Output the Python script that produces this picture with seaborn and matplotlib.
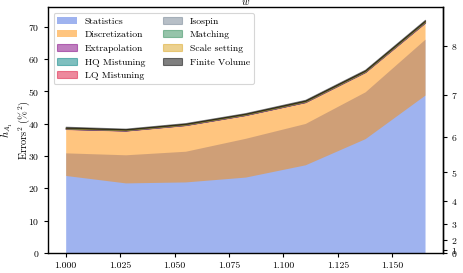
import numpy as np
import matplotlib
matplotlib.use("Agg")
import matplotlib.pyplot as plt
import seaborn as sns

# w values of the ensembles
w = [1.0, 1.0275, 1.055, 1.0825, 1.11, 1.1375, 1.165]

# squared errors (%^2)
stat_top = [31.0, 30.4, 31.5, 35.5, 40.1, 49.9, 66.2]
disc_bottom = [24.0, 21.7, 22.0, 23.5, 27.3, 35.4, 48.9]
disc_top = [38.4, 37.9, 39.6, 42.7, 46.7, 56.0, 71.3]

extrap = [0.05, 0.05, 0.05, 0.05, 0.06, 0.07, 0.08]
hq_mis = [0.03, 0.03, 0.03, 0.03, 0.03, 0.04, 0.05]
lq_mis = [0.12, 0.10, 0.10, 0.10, 0.12, 0.12, 0.15]
isospin = [0.03, 0.03, 0.03, 0.03, 0.03, 0.03, 0.04]
matching = [0.04, 0.03, 0.04, 0.04, 0.05, 0.05, 0.06]
scale = [0.06, 0.05, 0.06, 0.06, 0.07, 0.08, 0.10]
fv = [0.35, 0.30, 0.30, 0.30, 0.35, 0.35, 0.40]

small_names = ["Extrapolation", "HQ Mistuning", "LQ Mistuning", "Isospin",
               "Matching", "Scale setting", "Finite Volume"]
small_vals = [extrap, hq_mis, lq_mis, isospin, matching, scale, fv]
small_cols = ["purple", "teal", "crimson", "slategray",
              "seagreen", "goldenrod", "black"]

right_ticks = [0, 1, 2, 3, 4, 5, 6, 7, 8]

sns.set_theme(style="ticks", context="paper")
plt.rcParams["font.family"] = ["cmr10", "DejaVu Serif"]
plt.rcParams["mathtext.fontset"] = "cm"
plt.rcParams["axes.unicode_minus"] = False
plt.rcParams["axes.formatter.use_mathtext"] = True
for k in ["font.size", "xtick.labelsize", "ytick.labelsize", "legend.fontsize"]:
    plt.rcParams[k] = 7
for k in ["axes.labelsize", "axes.titlesize"]:
    plt.rcParams[k] = 7.5
for k in ["xtick.major.size", "ytick.major.size"]:
    plt.rcParams[k] = 3.0
for k in ["xtick.major.width", "ytick.major.width"]:
    plt.rcParams[k] = 0.8
plt.rcParams["xtick.major.pad"] = 3
plt.rcParams["ytick.major.pad"] = 3
for k in ["text.color", "xtick.color", "ytick.color", "axes.labelcolor"]:
    plt.rcParams[k] = "black"

fig = plt.figure(figsize=(4.63, 2.73), dpi=100)
ax = fig.add_axes([47.7 / 463, 20 / 273, (443 - 47.7) / 463, (266 - 20) / 273])

x = np.array(w)
ax.fill_between(x, 0, stat_top, color="royalblue", alpha=0.5, lw=0, label="Statistics")
ax.fill_between(x, disc_bottom, disc_top, color="darkorange", alpha=0.5, lw=0, label="Discretization")

cum = np.array(disc_top)
for name, vals, col in zip(small_names, small_vals, small_cols):
    new = cum + np.array(vals)
    ax.fill_between(x, cum, new, color=col, alpha=0.5, label=name)
    cum = new

ax.set_ylim(0, cum.max() * 1.055)
ax.set_xticks([1.0, 1.025, 1.05, 1.075, 1.1, 1.125, 1.15])
ax.set_xticklabels(["1.000", "1.025", "1.050", "1.075", "1.100", "1.125", "1.150"])
ax.set_xlabel("$w$", labelpad=3)
ax.set_title("$w$", pad=1.5)
ax.set_ylabel("$h_{A_1}$\nErrors$^2$ (%$^2$)", linespacing=1.05)
ax.yaxis.set_label_coords(-0.04, 0.5)

sec = ax.secondary_yaxis("right", functions=(lambda v: np.sqrt(np.clip(v, 0, None)), np.square))
sec.set_yticks(right_ticks)
sec.set_ylabel("Errors (%)", fontsize=7)

for s in ax.spines.values():
    s.set_color("black")
    s.set_linewidth(1.0)

ax.legend(loc="upper left", ncol=2, frameon=True, borderaxespad=0.6,
          handleheight=0.7, labelspacing=0.5, columnspacing=1.8)

fig.savefig("out.png", dpi=100)
